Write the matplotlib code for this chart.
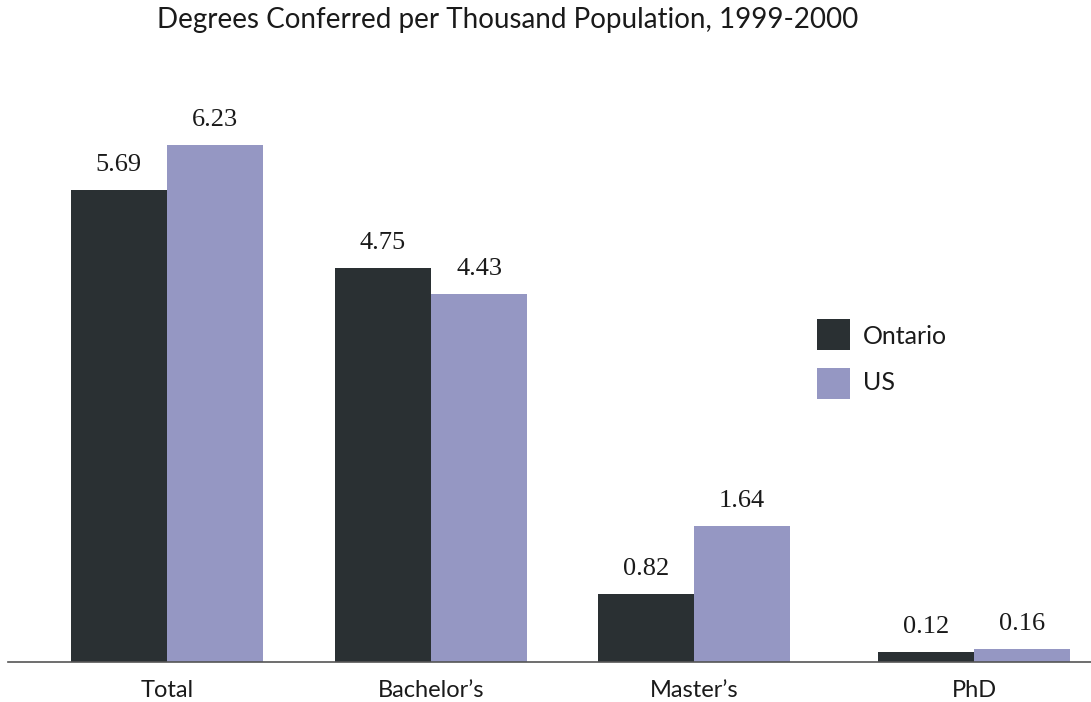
import matplotlib
matplotlib.use("Agg")
import matplotlib.pyplot as plt
from matplotlib.patches import Rectangle

categories = ["Total", "Bachelor\u2019s", "Master\u2019s", "PhD"]
ontario = [5.69, 4.75, 0.82, 0.12]
us = [6.23, 4.43, 1.64, 0.16]
series_names = ["Ontario", "US"]
colors = ["#2a3033", "#9597c3"]

# group centres (slightly wider gap before the last group)
centers = [0.0, 1.0, 1.996, 3.057]
width = 0.364

W, H = 1091, 702
fig = plt.figure(figsize=(W / 100, H / 100), dpi=100)
fig.patch.set_facecolor("white")

# axes placed in pixel terms: baseline at y=662, spanning x=8..1091
ax = fig.add_axes([8 / W, (H - 662) / H, 1 - 8 / W, (662 - 60) / H])
ax.set_xlim(-0.602, 3.5)
ax.set_ylim(0, (662 - 60) / 82.98)

sans = ["Lato", "DejaVu Sans"]
serif = ["Liberation Serif", "DejaVu Serif"]

for i, (vals, col) in enumerate(zip([ontario, us], colors)):
    xs = [c + (i - 0.5) * width for c in centers]
    ax.bar(xs, vals, width=width, color=col, linewidth=0)
    for x, v in zip(xs, vals):
        ax.annotate(f"{v:.2f}", (x, v), xytext=(0, 18), textcoords="offset points",
                    ha="center", va="center", fontsize=19, family=serif, color="#1a1a1a")

for side in ["top", "right", "left"]:
    ax.spines[side].set_visible(False)
ax.spines["bottom"].set_color("#555555")
ax.spines["bottom"].set_linewidth(1.2)
ax.set_yticks([])
ax.set_xticks(centers)
ax.set_xticklabels(categories, fontsize=17, family=sans, color="#1a1a1a")
ax.tick_params(axis="x", length=0, pad=13)

fig.text(508 / W, 1 - 20 / H, "Degrees Conferred per Thousand Population, 1999-2000",
         ha="center", va="center", fontsize=20, family=sans, color="#1a1a1a")

# legend drawn as swatches with labels
legend_rows = [(319, 337), (368, 383)]
for (top, ymid), name, col in zip(legend_rows, series_names, colors):
    fig.patches.append(Rectangle((817 / W, 1 - (top + 31) / H), 33 / W, 31 / H,
                                 transform=fig.transFigure, facecolor=col,
                                 edgecolor="none"))
    fig.text(863 / W, 1 - ymid / H, name, ha="left", va="center", fontsize=18,
             family=sans, color="#1a1a1a")

fig.savefig("out.png", dpi=100, facecolor="white")
